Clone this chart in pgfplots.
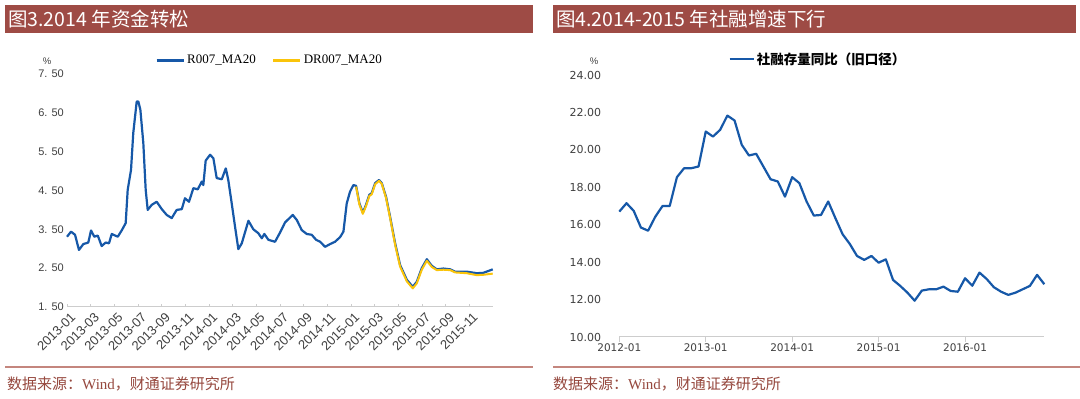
\documentclass[border=0pt]{standalone}
\usepackage{pgfplots}
\pgfplotsset{compat=1.18}
\usepackage{fontspec}
\setmainfont{Liberation Sans}
\newfontfamily\cjk{Noto Sans CJK SC}
\newfontfamily\serif{Liberation Serif}
\newfontfamily\dejavu{DejaVu Sans}
\definecolor{barred}{RGB}{158,75,69}
\definecolor{footline}{RGB}{196,134,126}
\definecolor{foottext}{RGB}{150,72,62}
\definecolor{lineblue}{RGB}{22,88,168}
\definecolor{lineyellow}{RGB}{250,196,10}
\definecolor{ticktext}{RGB}{64,64,64}
\definecolor{axisgray}{RGB}{205,205,205}
\begin{document}
\begin{tikzpicture}[x=1pt,y=1pt]
\path[use as bounding box, fill=white] (0,0) rectangle (1080,399);
% title bars
\fill[barred] (5,366) rectangle (533,394);
\node[anchor=west, text=white, font=\cjk\fontsize{19.5}{19.5}\selectfont, inner sep=0pt] at (8,380) {图3.2014 年资金转松};
\fill[barred] (553,366) rectangle (1076,394);
\node[anchor=west, text=white, font=\cjk\fontsize{19.5}{19.5}\selectfont, inner sep=0pt] at (556,380) {图4.2014-2015 年社融增速下行};
% footers
\draw[footline, line width=1.5pt] (5,32) -- (533,32);
\draw[footline, line width=1.5pt] (553,32) -- (1080,32);
\node[anchor=west, text=foottext, font=\cjk\fontsize{15}{15}\selectfont, inner sep=0pt] at (7,15) {数据来源：{\serif Wind}，财通证券研究所};
\node[anchor=west, text=foottext, font=\cjk\fontsize{15}{15}\selectfont, inner sep=0pt] at (553,15) {数据来源：{\serif Wind}，财通证券研究所};
% percent labels
\node[text=ticktext, font=\fontsize{9.5}{9.5}\selectfont] at (47,338) {\%};
\node[text=ticktext, font=\fontsize{9.5}{9.5}\selectfont] at (594,338) {\%};

\begin{axis}[
  at={(67pt,92pt)}, anchor=south west,
  width=426pt, height=233pt, scale only axis,
  xmin=0, xmax=36, ymin=1.5, ymax=7.5,
  axis x line*=bottom, axis y line*=left,
  y axis line style={draw=none},
  x axis line style={axisgray, line width=1pt},
  xtick={0,2,...,34},
  xticklabels={2013-01,2013-03,2013-05,2013-07,2013-09,2013-11,2014-01,2014-03,2014-05,2014-07,2014-09,2014-11,2015-01,2015-03,2015-05,2015-07,2015-09,2015-11},
  ytick={1.5,2.5,...,7.5},
  yticklabels={1. 50,2. 50,3. 50,4. 50,5. 50,6. 50,7. 50},
  xtick style={axisgray, line width=0.8pt},
  ytick style={draw=none},
  tick align=inside, major tick length=3pt,
  x tick label style={rotate=45, anchor=north east, font=\fontsize{13}{13}\selectfont, text=ticktext, inner sep=1pt, yshift=-4pt},
  y tick label style={font=\fontsize{11}{11}\selectfont, text=ticktext, inner sep=1pt, xshift=-2pt},
  legend style={at={(0.2066,1.06)}, anchor=west, draw=none, fill=none, legend columns=2,
    font=\serif\fontsize{13}{13}\selectfont, inner sep=0pt,
    /tikz/every even column/.append style={column sep=14pt}},
  legend image code/.code={\draw[#1, line width=3pt] (0pt,0pt) -- (27pt,0pt);},
  clip=false,
]
\addplot[lineblue, line width=2.2pt, line join=round] coordinates {
(0,3.31)(0.34,3.44)(0.68,3.36)(1.01,2.97)(1.38,3.12)(1.80,3.16)(2.03,3.47)(2.31,3.31)(2.60,3.34)(2.93,3.07)(3.27,3.16)(3.55,3.14)(3.78,3.38)(4.29,3.31)(4.62,3.47)(4.96,3.66)(5.13,4.52)(5.41,5.03)(5.60,5.98)(5.89,6.79)(6.03,6.79)(6.20,6.58)(6.45,5.72)(6.65,4.52)(6.82,4.00)(7.16,4.13)(7.58,4.21)(8.01,4.02)(8.43,3.87)(8.85,3.79)(9.27,4.00)(9.70,4.02)(9.97,4.30)(10.31,4.21)(10.68,4.56)(11.05,4.53)(11.39,4.73)(11.52,4.64)(11.72,5.27)(12.09,5.42)(12.37,5.33)(12.65,4.82)(13.08,4.79)(13.42,5.07)(13.63,4.77)(13.92,4.17)(14.20,3.57)(14.48,2.99)(14.77,3.14)(15.33,3.72)(15.75,3.50)(16.17,3.40)(16.46,3.27)(16.68,3.38)(17.02,3.23)(17.58,3.18)(18.01,3.42)(18.43,3.68)(19.08,3.87)(19.42,3.74)(19.84,3.48)(20.26,3.38)(20.68,3.36)(21.05,3.23)(21.39,3.18)(21.81,3.05)(22.23,3.12)(22.65,3.18)(23.08,3.30)(23.36,3.44)(23.64,4.17)(23.92,4.47)(24.20,4.64)(24.43,4.62)(24.71,4.17)(25.00,3.93)(25.27,4.13)(25.55,4.39)(25.75,4.43)(26.04,4.69)(26.37,4.77)(26.60,4.69)(26.96,4.34)(27.30,3.83)(27.73,3.14)(28.15,2.58)(28.72,2.20)(29.22,2.02)(29.56,2.15)(29.98,2.50)(30.41,2.73)(30.83,2.56)(31.25,2.47)(31.81,2.49)(32.38,2.47)(32.80,2.41)(33.79,2.41)(34.63,2.37)(35.19,2.38)(35.98,2.47)
};
\addlegendentry{R007\_MA20}
\addplot[lineyellow, line width=2.0pt, line join=round] coordinates {
(24.43,4.60)(24.71,4.14)(25.00,3.90)(25.27,4.10)(25.55,4.36)(25.75,4.40)(26.04,4.66)(26.37,4.75)(26.60,4.67)(26.96,4.31)(27.30,3.80)(27.73,3.10)(28.15,2.54)(28.72,2.16)(29.22,1.98)(29.56,2.11)(29.98,2.46)(30.41,2.69)(30.83,2.53)(31.25,2.45)(31.81,2.46)(32.38,2.45)(32.80,2.39)(33.79,2.37)(34.63,2.32)(35.19,2.33)(35.98,2.36)
};
\addlegendentry{DR007\_MA20}
\end{axis}

\begin{axis}[
  at={(619.3pt,62pt)}, anchor=south west,
  width=425pt, height=262pt, scale only axis,
  xmin=0, xmax=59, ymin=10, ymax=24,
  axis x line*=bottom, axis y line*=left,
  y axis line style={draw=none},
  x axis line style={axisgray, line width=1pt},
  xtick={0,12,24,36,48},
  xticklabels={2012-01,2013-01,2014-01,2015-01,2016-01},
  ytick={10,12,...,24},
  yticklabels={10.00,12.00,14.00,16.00,18.00,20.00,22.00,24.00},
  xtick style={axisgray, line width=0.8pt},
  ytick style={draw=none},
  tick align=outside, major tick length=5pt,
  x tick label style={font=\dejavu\fontsize{10.5}{10.5}\selectfont, text=ticktext, inner sep=1pt, yshift=-1pt},
  y tick label style={font=\dejavu\fontsize{11}{11}\selectfont, text=ticktext, inner sep=1pt, xshift=-12pt},
  legend style={at={(0.256,1.061)}, anchor=west, draw=none, fill=none,
    font=\cjk\bfseries\fontsize{13.5}{13.5}\selectfont, inner sep=0pt},
  legend image code/.code={\draw[#1, line width=2.5pt] (0pt,0pt) -- (24pt,0pt);},
  clip=false,
]
\addplot[lineblue, line width=2.2pt, line join=round] coordinates {
(0,16.70)(1,17.15)(2,16.74)(3,15.85)(4,15.68)(5,16.43)(6,17.00)(7,17.00)(8,18.54)(9,19.02)(10,19.02)(11,19.11)(12,20.98)(13,20.71)(14,21.07)(15,21.83)(16,21.57)(17,20.27)(18,19.70)(19,19.79)(20,19.11)(21,18.43)(22,18.31)(23,17.50)(24,18.54)(25,18.22)(26,17.24)(27,16.49)(28,16.52)(29,17.24)(30,16.35)(31,15.49)(32,14.97)(33,14.33)(34,14.12)(35,14.33)(36,13.97)(37,14.15)(38,13.05)(39,12.73)(40,12.37)(41,11.94)(42,12.48)(43,12.55)(44,12.55)(45,12.69)(46,12.46)(47,12.42)(48,13.14)(49,12.74)(50,13.44)(51,13.10)(52,12.66)(53,12.42)(54,12.25)(55,12.37)(56,12.55)(57,12.73)(58,13.32)(59,12.82)
};
\addlegendentry{社融存量同比（旧口径）}
\end{axis}
\end{tikzpicture}
\end{document}
